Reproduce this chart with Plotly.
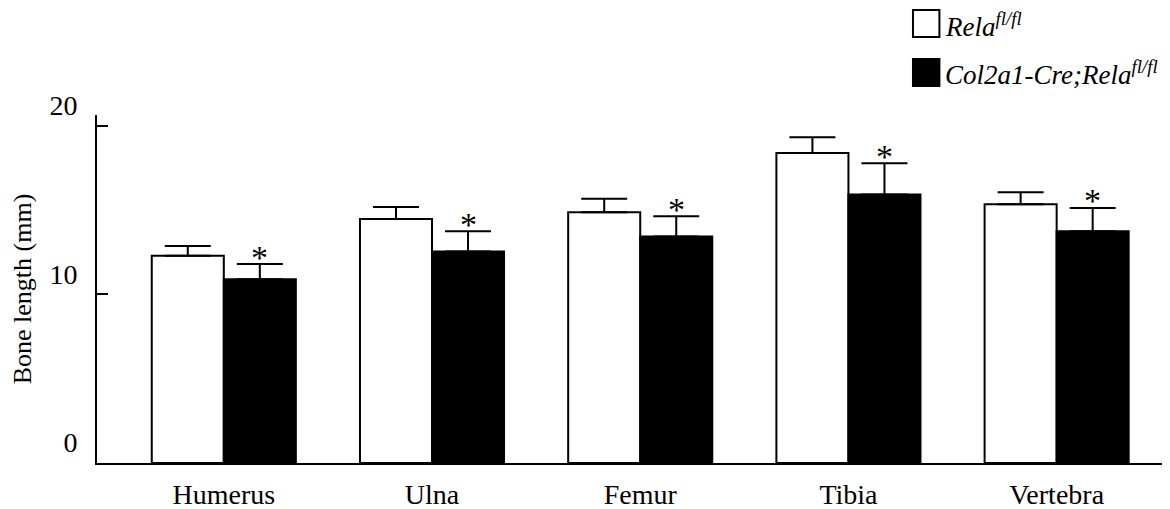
import plotly.graph_objects as go

categories = ["Humerus", "Ulna", "Femur", "Tibia", "Vertebra"]
control_vals = [12.28, 14.47, 14.87, 18.38, 15.34]
control_err = [0.59, 0.70, 0.79, 0.93, 0.71]
cko_vals = [10.90, 12.54, 13.42, 15.91, 13.74]
cko_err = [0.89, 1.20, 1.21, 1.86, 1.38]
ytick_vals = [0, 10, 20]
series_names = ["<i>Rela<sup>fl/fl</sup></i>", "<i>Col2a1-Cre;Rela<sup>fl/fl</sup></i>"]

FONT = "Liberation Serif"

fig = go.Figure()
fig.add_trace(go.Bar(
    x=categories, y=control_vals, name=series_names[0],
    marker=dict(color="white", line=dict(color="black", width=2)),
    error_y=dict(type="data", array=control_err, symmetric=False,
                 arrayminus=[0]*len(control_err), color="black",
                 thickness=2, width=23),
    showlegend=False,
))
fig.add_trace(go.Bar(
    x=categories, y=cko_vals, name=series_names[1],
    marker=dict(color="black", line=dict(color="black", width=2)),
    error_y=dict(type="data", array=cko_err, symmetric=False,
                 arrayminus=[0]*len(cko_err), color="black",
                 thickness=2, width=23),
    showlegend=False,
))

# significance stars above knockout bars
for c, v, e in zip(categories, cko_vals, cko_err):
    fig.add_annotation(x=c, y=v + e, xref="x", yref="y", text="*",
                       showarrow=False, xshift=36, yshift=7,
                       yanchor="middle",
                       font=dict(family=FONT, size=34, color="black"))

# legend drawn manually
fig.add_shape(type="rect", xref="paper", yref="paper",
              x0=0.7626, x1=0.7873, y0=1.224, y1=1.3015,
              line=dict(color="black", width=2), fillcolor="white")
fig.add_shape(type="rect", xref="paper", yref="paper",
              x0=0.7626, x1=0.7873, y0=1.0833, y1=1.1608,
              line=dict(color="black", width=2), fillcolor="black")
fig.add_annotation(x=0.7905, y=1.258, xref="paper", yref="paper",
                   text=series_names[0], showarrow=False,
                   xanchor="left", yanchor="middle",
                   font=dict(family=FONT, size=27, color="black"))
fig.add_annotation(x=0.7905, y=1.1206, xref="paper", yref="paper",
                   text=series_names[1], showarrow=False,
                   xanchor="left", yanchor="middle",
                   font=dict(family=FONT, size=27, color="black"))

# page body has an 8px default margin, so the figure is sized/offset for it
fig.update_layout(
    width=1162, height=501,
    margin=dict(l=89, r=3, t=107, b=46),
    plot_bgcolor="white", paper_bgcolor="white",
    barmode="group", bargap=0.308, bargroupgap=0,
    font=dict(family=FONT, size=28, color="black"),
    xaxis=dict(range=[-0.609, 4.53], showline=True, linewidth=2,
               linecolor="black", ticks="", showgrid=False,
               automargin=False,
               tickfont=dict(family=FONT, size=28, color="black"),
               ticklabelstandoff=5),
    yaxis=dict(range=[0, 20.63], showline=True, linewidth=2,
               linecolor="black", ticks="inside", ticklen=11,
               tickwidth=2, tickcolor="black", tickvals=ytick_vals,
               showgrid=False, zeroline=False, automargin=False,
               ticklabelposition="outside top", ticklabelstandoff=12,
               tickfont=dict(family=FONT, size=28, color="black"),
               title=dict(text="Bone length (mm)",
                          font=dict(family=FONT, size=26, color="black"),
                          standoff=11)),
)

fig.write_html("out.html")
